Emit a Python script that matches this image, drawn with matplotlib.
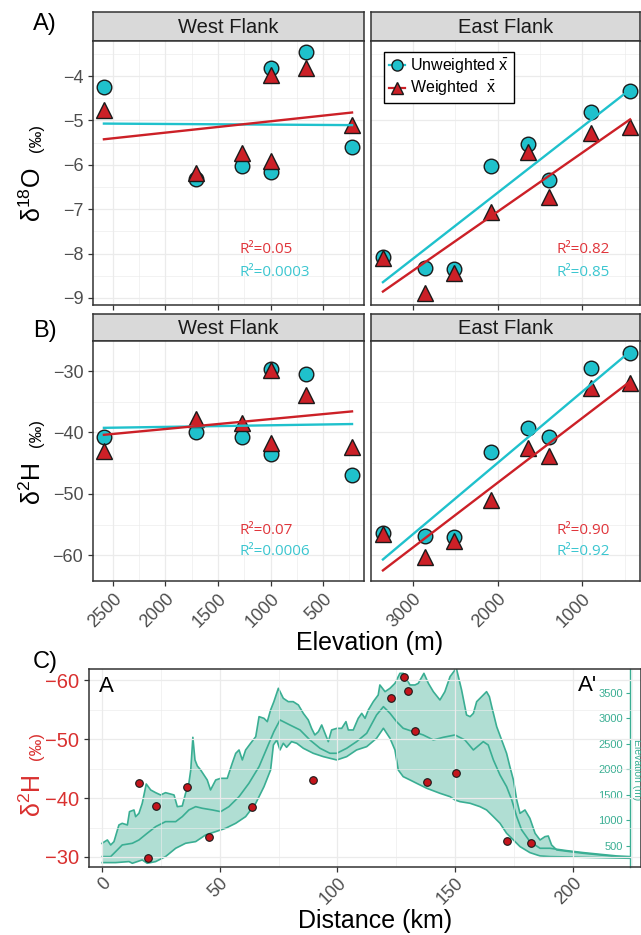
import numpy as np
import matplotlib.pyplot as plt
from matplotlib.lines import Line2D
from matplotlib.ticker import MultipleLocator

plt.rcParams['font.family'] = ['Liberation Sans', 'DejaVu Sans']
plt.rcParams['mathtext.fontset'] = 'custom'
plt.rcParams['mathtext.rm'] = 'Liberation Sans'
plt.rcParams['mathtext.it'] = 'Liberation Sans:italic'

# spring sites on each flank: elevation (m) and mean isotope values
west_elev = [2586, 1710, 1271, 1000, 1000, 662, 224]
west_d18o_unw = [-4.25, -6.32, -6.03, -6.16, -3.82, -3.46, -5.60]
west_d18o_w = [-4.77, -6.19, -5.74, -5.91, -3.98, -3.82, -5.10]
west_d2h_unw = [-40.8, -40.0, -40.8, -43.5, -29.7, -30.4, -47.0]
west_d2h_w = [-43.0, -37.8, -38.5, -41.7, -29.8, -33.9, -42.4]

east_elev = [3353, 2859, 2518, 2082, 1635, 1388, 894, 435]
east_d18o_unw = [-8.08, -8.33, -8.35, -6.03, -5.54, -6.34, -4.81, -4.33]
east_d18o_w = [-8.10, -8.88, -8.43, -7.07, -5.72, -6.72, -5.29, -5.14]
east_d2h_unw = [-56.3, -56.9, -57.1, -43.2, -39.3, -40.8, -29.5, -27.0]
east_d2h_w = [-56.6, -60.3, -57.7, -51.0, -42.6, -43.9, -32.7, -32.0]

# r-squared of the fits: [west d18O, east d18O, west d2H, east d2H]
r2_weighted = ['0.05', '0.82', '0.07', '0.90']
r2_unweighted = ['0.0003', '0.85', '0.0006', '0.92']

# swath profile A-A': distance (km) vs max / mean / min elevation (m)
max_km = [0, 2.3, 3.7, 5.1, 7.2, 8.6, 10.8, 11.7, 13.6, 14.3, 15.7, 17.1, 18.8, 20.7, 22.8,
          24.9, 27.0, 30.6, 32.0, 34.1, 35.5, 36.9, 37.7, 38.6, 39.5, 40.5, 41.9, 43.3, 44.7,
          46.1, 48.3, 50.4, 53.2, 55.3, 56.8, 58.2, 59.6, 61.0, 63.1, 65.3, 66.7, 68.8, 70.2,
          71.6, 73.0, 74.9, 77.0, 79.1, 81.2, 83.4, 85.5, 87.6, 89.0, 90.4, 91.9, 93.3, 94.7,
          96.1, 97.5, 99.7, 101.8, 103.6, 104.6, 106.7, 108.8, 110.3, 111.7, 113.1, 115.2,
          117.3, 118.0, 120.2, 122.3, 124.4, 126.5, 127.9, 130.8, 132.9, 134.3, 136.7, 138.6,
          140.7, 143.5, 145.6, 147.8, 149.9, 150.6, 152.7, 154.8, 156.3, 157.7, 159.1, 161.2,
          163.3, 164.5, 165.5, 167.6, 169.7, 171.8, 173.2, 174.7, 176.1, 177.5, 179.6, 181.7,
          183.9, 186.0, 188.1, 189.5, 190.9, 193.1, 198.7, 204.4, 211.5, 218.5, 224.2]
max_elev = [552, 618, 520, 585, 912, 944, 912, 1173, 1206, 1075, 1140, 1336, 1715, 1598, 1545,
            1500, 1545, 1500, 1271, 1284, 1532, 1728, 1990, 2630, 2186, 2068, 1990, 1892, 1794,
            1598, 1794, 1826, 1826, 2120, 2316, 2382, 2186, 2382, 2512, 2643, 3035, 3002, 2937,
            3166, 3329, 3591, 3395, 3329, 3329, 3264, 3100, 2970, 2806, 2676, 2741, 2872, 2708,
            2545, 2774, 2806, 2806, 2937, 2774, 2774, 3002, 3100, 3002, 3166, 3329,
            3460, 3656, 3525, 3591, 3688, 3884, 3884, 3656, 3656, 3688, 3884, 3688,
            3525, 3362, 3525, 3819, 3950, 3960, 3558, 3068, 3035, 3100, 3329, 3427,
            3525, 3427, 3231, 2839, 2578, 2316, 2055, 1794, 1402, 1140, 1206, 1042,
            748, 618, 683, 696, 520, 422, 389, 357, 324, 291, 278]

mean_km = [0.1, 3.7, 5.8, 8.6, 12.9, 15.7, 19.2, 22.8, 27.0, 31.3, 34.1, 36.9, 39.8, 42.6, 46.9,
           50.4, 53.9, 58.2, 62.4, 66.7, 70.9, 73.0, 75.6, 79.8, 84.1, 88.3, 92.6, 96.8, 99.7,
           103.9, 108.1, 112.4, 116.6, 119.5, 122.3, 125.1, 127.9, 132.2, 136.4, 140.7, 144.9,
           149.9, 154.1, 157.7, 161.9, 164.0, 166.2, 169.0, 171.8, 174.0, 176.1, 178.2, 181.7,
           186.0, 190.2, 197.3, 204.4, 211.5, 218.5, 224.2]
mean_elev = [292, 292, 389, 520, 553, 618, 749, 879, 977, 977, 1075, 1206, 1271, 1239, 1206,
             1173, 1271, 1467, 1729, 2055, 2513, 2741, 2970, 2872, 2774, 2578, 2415, 2317, 2317,
             2415, 2545, 2709, 3068, 3231, 3101, 2937, 2807, 2741, 2676, 2578, 2630,
             2676, 2578, 2382, 2545, 2480, 2186, 1892, 1663, 1402, 1075, 814, 586,
             455, 455, 409, 370, 337, 305, 292]

min_km = [0.1, 5.8, 11.5, 12.9, 17.1, 19.2, 22.8, 27.0, 31.3, 35.5, 39.8, 44.0, 48.3, 52.5, 56.8,
          61.0, 65.3, 68.8, 71.6, 72.8, 74.2, 75.6, 77.0, 78.4, 80.5, 82.7, 85.5, 89.7, 94.0,
          99.7, 103.9, 108.1, 112.4, 116.6, 119.5, 122.3, 124.4, 125.8, 127.9, 130.8, 133.6,
          137.9, 143.5, 147.8, 149.9, 152.0, 156.3, 160.5, 163.3, 166.2, 169.0, 171.8, 174.7,
          177.5, 181.7, 186.0, 190.2, 204.4, 224.2]
min_elev = [174, 174, 194, 161, 226, 161, 194, 292, 455, 553, 586, 716, 782, 847, 945,
            1075, 1337, 1663, 1990, 2480, 2578, 2382, 2513, 2434, 2545, 2513, 2415, 2317, 2251,
            2186, 2251, 2382, 2447, 2611, 2807, 2611, 2382, 1990, 1859, 1794, 1729,
            1631, 1533, 1467, 1402, 1369, 1337, 1271, 1206, 1075, 945, 749, 618,
            488, 370, 305, 292, 278, 259]

# precipitation d2H samples along the profile
sample_km = [15.7, 22.9, 19.5, 36.1, 45.4, 63.7, 89.6, 122.7, 128.2, 129.9, 132.9, 138.0,
             150.3, 172.0, 182.2]
sample_d2h = [-42.6, -38.7, -29.8, -41.9, -33.4, -38.4, -43.1, -56.9, -60.5, -58.1, -51.3,
              -42.8, -44.2, -32.7, -32.4]

CYAN = '#1fc1cc'
RED = '#cc2027'
TEAL = '#3aae93'
GRID = '#ebebeb'
TICK = '#4d4d4d'
FRAME = '#333333'

W, H = 641, 935


def box(x0, y0, x1, y1):
    # pixel rectangle (top-left origin) -> figure fraction rect
    return [x0 / W, 1 - y1 / H, (x1 - x0) / W, (y1 - y0) / H]


def style_axes(ax, size=13):
    ax.set_facecolor('white')
    ax.grid(True, which='major', color=GRID, lw=0.9, zorder=0)
    ax.grid(True, which='minor', color=GRID, lw=0.45, zorder=0)
    ax.set_axisbelow(True)
    for s in ax.spines.values():
        s.set_color(FRAME)
        s.set_linewidth(1.1)
    ax.tick_params(which='both', color=FRAME, labelcolor=TICK, labelsize=size, length=3.5, width=0.9)
    ax.tick_params(which='minor', length=0)


def strip(rect, title):
    sa = fig.add_axes(rect)
    sa.set_facecolor('#d9d9d9')
    sa.set_xticks([])
    sa.set_yticks([])
    for s in sa.spines.values():
        s.set_color(FRAME)
        s.set_linewidth(1.1)
    sa.text(0.5, 0.45, title, ha='center', va='center', fontsize=14.5, color='#1a1a1a')


def facet(rect, elev, unw, w, xlim, xmajor, ylim, ymajor, r2w, r2u, r2x, show_y):
    ax = fig.add_axes(rect)
    style_axes(ax)
    elev = np.array(elev)
    ax.plot(elev, unw, ls='none', marker='o', ms=10.5, mfc=CYAN, mec='#1a1a1a', mew=1, zorder=3)
    ax.plot(elev, w, ls='none', marker='^', ms=12, mfc=RED, mec='#1a1a1a', mew=1, zorder=4)
    xs = np.array([elev.min(), elev.max()])
    for vals, c in ((unw, CYAN), (w, RED)):
        k, b = np.polyfit(elev, vals, 1)
        ax.plot(xs, k * xs + b, color=c, lw=1.7, zorder=5)
    ax.set_xlim(*xlim)
    ax.set_ylim(*ylim)
    ax.xaxis.set_major_locator(MultipleLocator(xmajor))
    ax.xaxis.set_minor_locator(MultipleLocator(xmajor / 2))
    ax.yaxis.set_major_locator(MultipleLocator(ymajor))
    ax.yaxis.set_minor_locator(MultipleLocator(ymajor / 2))
    if not show_y:
        ax.tick_params(axis='y', which='both', left=False, labelleft=False)
    ax.text(r2x, 0.21, 'R²=' + r2w, transform=ax.transAxes, color='#e0353b',
            fontsize=11, family=['Open Sans', 'DejaVu Sans'], va='center')
    ax.text(r2x, 0.122, 'R²=' + r2u, transform=ax.transAxes, color='#3cc6d0',
            fontsize=11, family=['Open Sans', 'DejaVu Sans'], va='center')
    return ax


fig = plt.figure(figsize=(W / 100, H / 100), dpi=100)

west_x = (93, 364)
east_x = (371, 641)
west_lim = (2690, 110)
east_lim = (3494, 318)

# A) d18O
strip(box(west_x[0], 12, west_x[1], 41), 'West Flank')
strip(box(east_x[0], 12, east_x[1] - 1, 41), 'East Flank')
axA1 = facet(box(west_x[0], 41, west_x[1], 305), west_elev, west_d18o_unw, west_d18o_w,
             west_lim, 500, (-9.16, -3.21), 1, r2_weighted[0], r2_unweighted[0], 0.54, True)
axA2 = facet(box(east_x[0], 41, east_x[1] - 1, 305), east_elev, east_d18o_unw, east_d18o_w,
             east_lim, 1000, (-9.16, -3.21), 1, r2_weighted[1], r2_unweighted[1], 0.69, False)
for ax in (axA1, axA2):
    ax.tick_params(axis='x', labelbottom=False)

handles = [Line2D([], [], color=CYAN, lw=1.6, marker='o', ms=8, mfc=CYAN, mec='#1a1a1a'),
           Line2D([], [], color=RED, lw=1.6, marker='^', ms=9, mfc=RED, mec='#1a1a1a')]
leg = axA2.legend(handles, [r'Unweighted $\bar{\mathrm{x}}$', r'Weighted  $\bar{\mathrm{x}}$'],
                  loc='upper left', bbox_to_anchor=(0.048, 0.958), borderaxespad=0,
                  fontsize=11.5, handlelength=1.0, handletextpad=0.35, labelspacing=0.2,
                  borderpad=0.3, fancybox=False, framealpha=1, edgecolor='black')
leg.get_frame().set_linewidth(1.0)

# B) d2H
strip(box(west_x[0], 314, west_x[1], 341), 'West Flank')
strip(box(east_x[0], 314, east_x[1] - 1, 341), 'East Flank')
axB1 = facet(box(west_x[0], 341, west_x[1], 581), west_elev, west_d2h_unw, west_d2h_w,
             west_lim, 500, (-64.2, -25.1), 10, r2_weighted[2], r2_unweighted[2], 0.54, True)
axB2 = facet(box(east_x[0], 341, east_x[1] - 1, 581), east_elev, east_d2h_unw, east_d2h_w,
             east_lim, 1000, (-64.2, -25.1), 10, r2_weighted[3], r2_unweighted[3], 0.69, False)
for ax in (axB1, axB2):
    for lab in ax.get_xticklabels():
        lab.set_rotation(45)
        lab.set_ha('right')
        lab.set_rotation_mode('anchor')

# C) profile with elevation swath behind the d2H samples
axE = fig.add_axes(box(89, 669, 630, 867), zorder=1)
axE.set_facecolor('white')
axE.fill(list(max_km) + list(min_km[::-1]), list(max_elev) + list(min_elev[::-1]),
         color=TEAL, alpha=0.4, lw=0)
for xs, ys in ((max_km, max_elev), (mean_km, mean_elev), (min_km, min_elev)):
    axE.plot(xs, ys, color=TEAL, lw=1.2)
axE.set_xlim(-5.5, 224.2)
axE.set_ylim(88, 3969)
axE.set_xticks([])
for side in ('left', 'top', 'bottom'):
    axE.spines[side].set_visible(False)
axE.spines['right'].set_color(TEAL)
axE.spines['right'].set_linewidth(1.0)
axE.yaxis.tick_right()
axE.set_yticks(range(500, 4000, 500))
axE.tick_params(axis='y', direction='in', length=3, pad=-5, colors=TEAL, labelsize=8)
for lab in axE.get_yticklabels():
    lab.set_ha('right')
fig.text(637 / W, 1 - 770 / H, 'Elevation (m)', rotation=270, color=TEAL, fontsize=7.5,
         ha='center', va='center')

axC = fig.add_axes(box(89, 669, 641, 867), zorder=2)
style_axes(axC, size=14)
axC.patch.set_visible(False)
axC.scatter(sample_km, sample_d2h, s=30, color='#c4151c', edgecolors='#1a1a1a', linewidths=0.8,
            zorder=4)
axC.set_xlim(-5.5, 228.9)
axC.set_ylim(-28.3, -61.9)
axC.xaxis.set_major_locator(MultipleLocator(50))
axC.xaxis.set_minor_locator(MultipleLocator(25))
axC.yaxis.set_major_locator(MultipleLocator(10))
axC.yaxis.set_minor_locator(MultipleLocator(5))
axC.tick_params(axis='y', labelcolor='#d9302f', labelsize=14.5)
axC.tick_params(axis='x', labelsize=13, pad=2)
for lab in axC.get_xticklabels():
    lab.set_rotation(45)
    lab.set_ha('right')
    lab.set_rotation_mode('anchor')
axC.text(0.018, 0.965, 'A', transform=axC.transAxes, fontsize=16, ha='left', va='top')
axC.text(0.886, 0.97, "A'", transform=axC.transAxes, fontsize=16, ha='left', va='top')

# axis titles
fig.text(370 / W, 1 - 643 / H, 'Elevation (m)', fontsize=18, ha='center', va='center')
fig.text(375 / W, 1 - 921 / H, 'Distance (km)', fontsize=18, ha='center', va='center')


def ylabel(main, y_main, y_unit, color='black'):
    fig.text(41 / W, 1 - y_main / H, main, rotation=90, rotation_mode='anchor',
             ha='left', va='baseline', fontsize=18, color=color)
    fig.text(41 / W, 1 - y_unit / H, '(‰)', rotation=90, rotation_mode='anchor',
             ha='left', va='baseline', fontsize=12, color=color)


ylabel(r'δ$^{18}$O', 222, 152)
ylabel(r'δ$^{2}$H', 505, 447)
ylabel(r'δ$^{2}$H', 817, 760, color='#d9302f')

for txt, y in (('A)', 24), ('B)', 331), ('C)', 662)):
    fig.text(33 / W, 1 - y / H, txt, fontsize=17, ha='left', va='center')

fig.savefig('out.png', dpi=100)
